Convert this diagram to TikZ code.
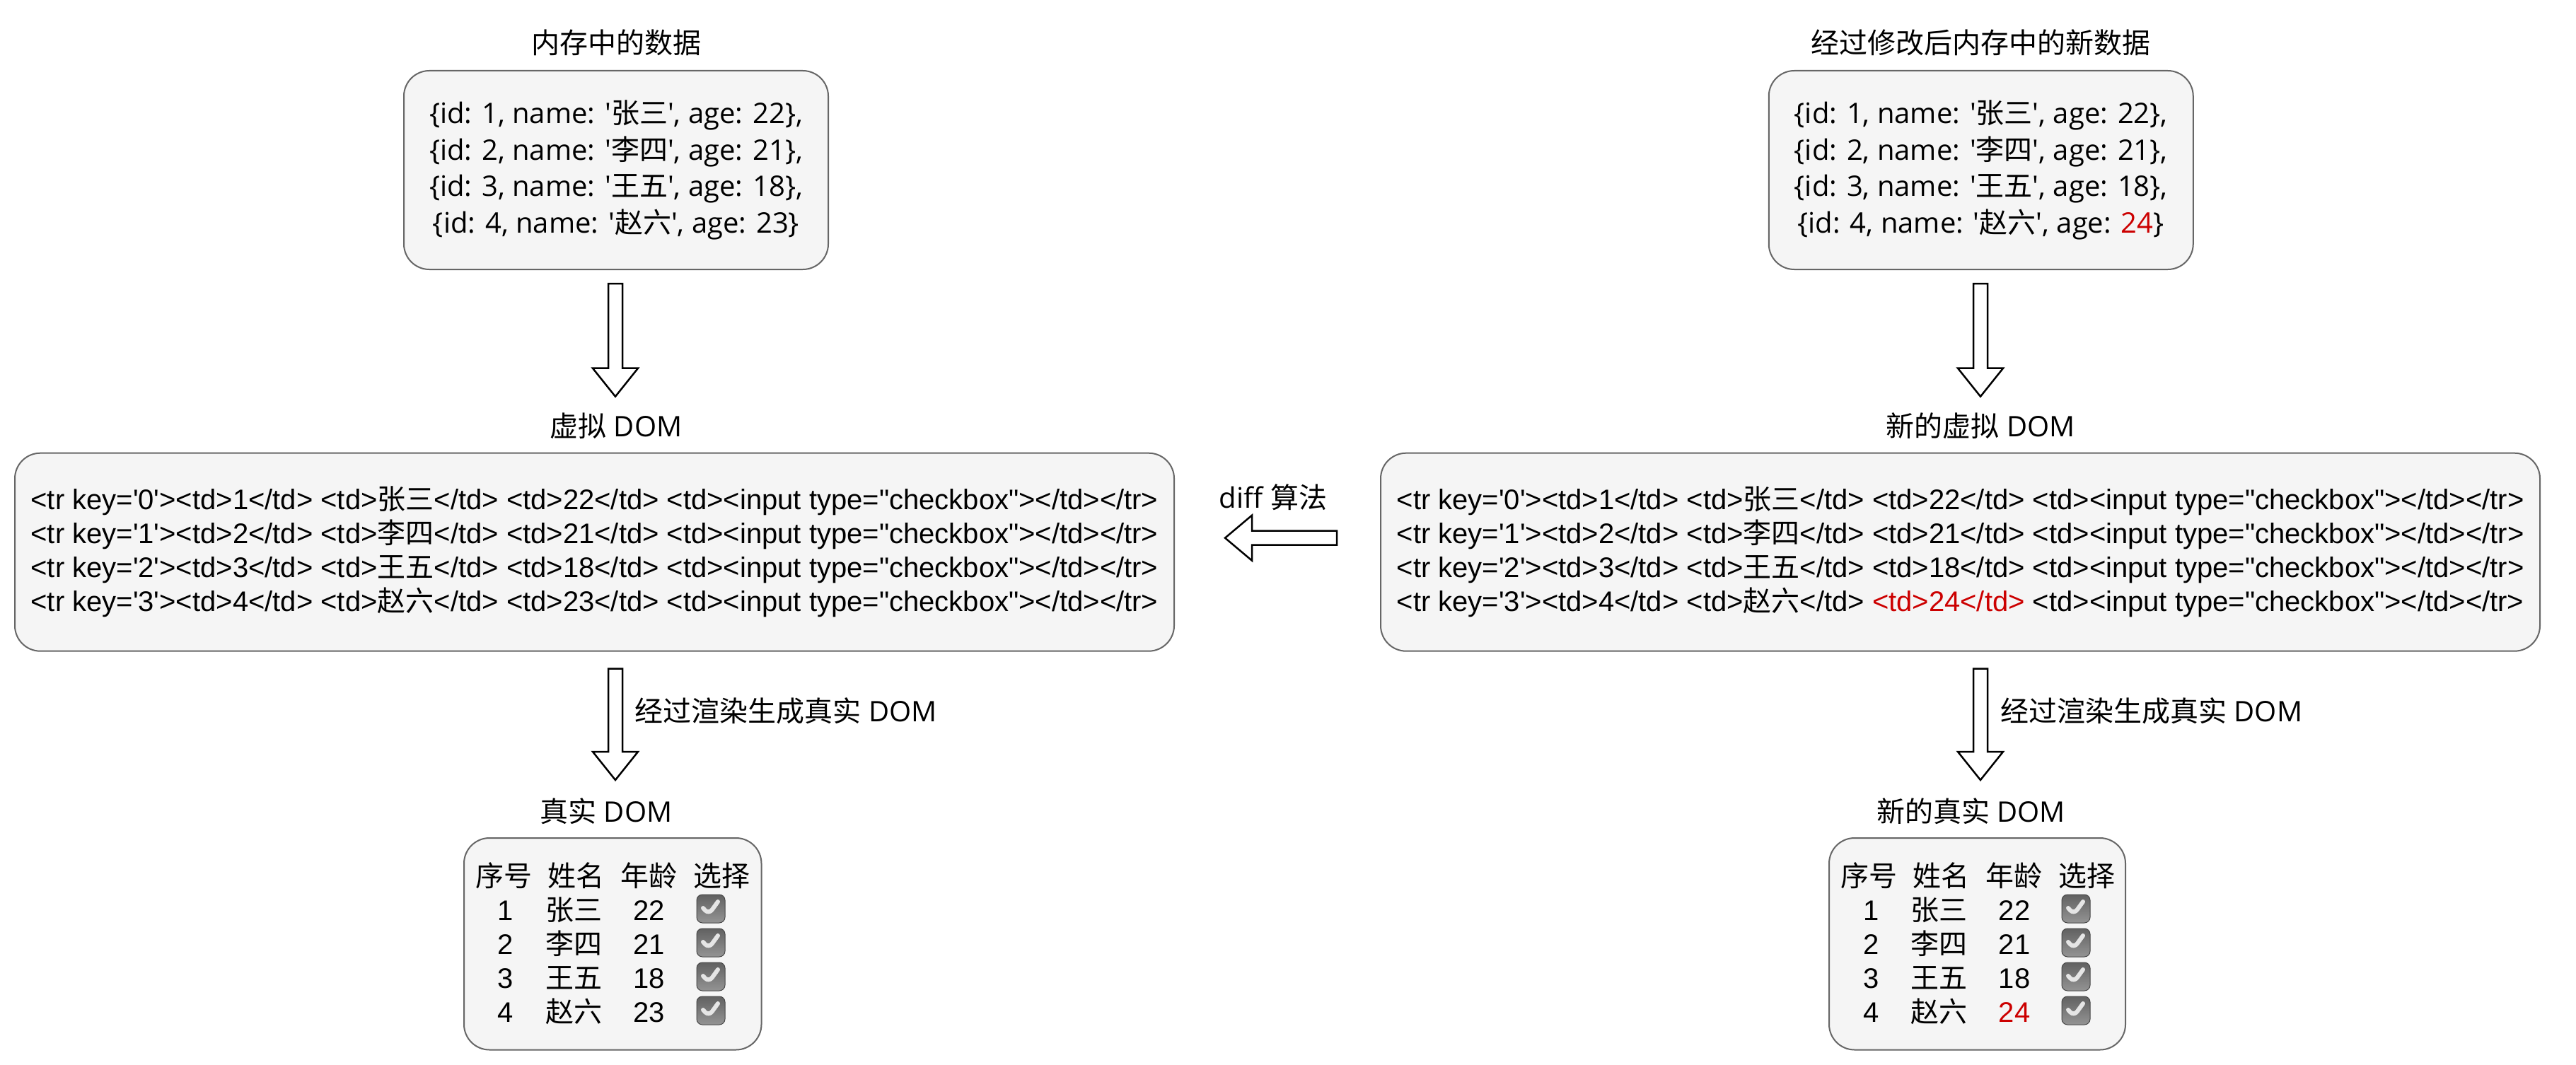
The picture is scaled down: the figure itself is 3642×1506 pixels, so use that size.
\documentclass[tikz,border=0pt]{standalone}
\usepackage{fontspec}
\newfontfamily\cjk{Noto Sans CJK SC}
\newfontfamily\hel{Liberation Sans}
\newfontfamily\comic{Open Sans}
\usetikzlibrary{calc}
\definecolor{boxfill}{HTML}{F5F5F5}
\definecolor{boxline}{HTML}{666666}
\definecolor{chg}{HTML}{CC0000}
\newcommand\zhs[1]{{\cjk #1}}
\begin{document}
\begin{tikzpicture}[x=1pt,y=-1pt,
  every node/.style={inner sep=0pt, outer sep=0pt},
  title/.style={anchor=base, font=\fontsize{40}{48}\selectfont\comic},
  box/.style={draw=boxline, fill=boxfill, line width=2pt, rounded corners=36pt},
  databox/.style={box, align=center, font=\fontsize{40}{51.7}\selectfont\comic},
  vdombox/.style={box, align=center, font=\fontsize{40}{48}\selectfont\hel},
  cell/.style={anchor=base, font=\fontsize{40}{48}\selectfont\hel},
  chk/.style={minimum size=40pt, rounded corners=8pt, draw=black!72, line width=1pt,
    top color=black!62, bottom color=black!42,
    path picture={\draw[line width=6pt, white!90!black, line cap=round, line join=round]
      ([shift={(-11pt,1pt)}]path picture bounding box.center) -- ++(8pt,-9pt) -- ++(13pt,18pt);}},
  blockdown/.style={draw=black, line width=2.5pt, fill=white, to path={
    let \p1=(\tikztostart), \p2=(\tikztotarget) in
    (\x1-10pt,\y1) -- (\x1+10pt,\y1) -- (\x1+10pt,\y2+40pt) -- (\x1+32pt,\y2+40pt)
    -- (\x1,\y2) -- (\x1-32pt,\y2+40pt) -- (\x1-10pt,\y2+40pt) -- cycle}},
  blockleft/.style={draw=black, line width=2.5pt, fill=white, to path={
    let \p1=(\tikztostart), \p2=(\tikztotarget) in
    (\x1,\y1+10pt) -- (\x2+38pt,\y1+10pt) -- (\x2+38pt,\y1+32pt) -- (\x2,\y1)
    -- (\x2+38pt,\y1-32pt) -- (\x2+38pt,\y1-10pt) -- (\x1,\y1-10pt) -- cycle}}
]
\useasboundingbox (0,0) rectangle (3642,1506);

% titles
\node[title] (t1) at (871,76) {\zhs{内存中的数据}};
\node[title] (t2) at (2800,76) {\zhs{经过修改后内存中的新数据}};
\node[title] (t3) at (871,617) {\zhs{虚拟} DOM};
\node[title] (t4) at (2800,617) {\zhs{新的虚拟} DOM};
\node[title] (t5) at (857,1162) {\zhs{真实} DOM};
\node[title] (t6) at (2786.5,1162) {\zhs{新的真实} DOM};
\node[title] (difflbl) at (1800,718) {diff \zhs{算法}};
\node[title, anchor=base west] (r1) at (897.7,1020) {\zhs{经过渲染生成真实} DOM};
\node[title, anchor=base west] (r2) at (2828.4,1020) {\zhs{经过渲染生成真实} DOM};

% data boxes
\node[databox, minimum width=600pt, minimum height=281pt] (mem) at (871,240.5)
 {\{id: 1, name: '\zhs{张三}', age: 22\},\\
  \{id: 2, name: '\zhs{李四}', age: 21\},\\
  \{id: 3, name: '\zhs{王五}', age: 18\},\\
  \{id: 4, name: '\zhs{赵六}', age: 23\}};
\node[databox, minimum width=600pt, minimum height=281pt] (newmem) at (2800.75,240.5)
 {\{id: 1, name: '\zhs{张三}', age: 22\},\\
  \{id: 2, name: '\zhs{李四}', age: 21\},\\
  \{id: 3, name: '\zhs{王五}', age: 18\},\\
  \{id: 4, name: '\zhs{赵六}', age: \textcolor{chg}{24}\}};

% virtual DOM boxes
\node[vdombox, minimum width=1639pt, minimum height=280pt] (vdom) at (840.5,780.7)
 {<tr key='0'><td>1</td> <td>\zhs{张三}</td> <td>22</td> <td><input type="checkbox"></td></tr>\\
  <tr key='1'><td>2</td> <td>\zhs{李四}</td> <td>21</td> <td><input type="checkbox"></td></tr>\\
  <tr key='2'><td>3</td> <td>\zhs{王五}</td> <td>18</td> <td><input type="checkbox"></td></tr>\\
  <tr key='3'><td>4</td> <td>\zhs{赵六}</td> <td>23</td> <td><input type="checkbox"></td></tr>};
\node[vdombox, minimum width=1639pt, minimum height=280pt] (newvdom) at (2771.5,780.7)
 {<tr key='0'><td>1</td> <td>\zhs{张三}</td> <td>22</td> <td><input type="checkbox"></td></tr>\\
  <tr key='1'><td>2</td> <td>\zhs{李四}</td> <td>21</td> <td><input type="checkbox"></td></tr>\\
  <tr key='2'><td>3</td> <td>\zhs{王五}</td> <td>18</td> <td><input type="checkbox"></td></tr>\\
  <tr key='3'><td>4</td> <td>\zhs{赵六}</td> \textcolor{chg}{<td>24</td>} <td><input type="checkbox"></td></tr>};

% real DOM boxes
\node[box, minimum width=420.5pt, minimum height=299.5pt] (dom) at (866.25,1334.75) {};
\node[box, minimum width=419pt, minimum height=299.5pt] (newdom) at (2795.5,1334.75) {};

% table headers
\node[cell] (dh1) at (712.8,1253) {\zhs{序号}};
\node[cell] (dh2) at (814.7,1253) {\zhs{姓名}};
\node[cell] (dh3) at (917.6,1253) {\zhs{年龄}};
\node[cell] (dh4) at (1020,1253) {\zhs{选择}};
\node[cell] (nh1) at (2642.6,1253) {\zhs{序号}};
\node[cell] (nh2) at (2744,1253) {\zhs{姓名}};
\node[cell] (nh3) at (2847,1253) {\zhs{年龄}};
\node[cell] (nh4) at (2950.6,1253) {\zhs{选择}};

% table rows
\foreach \k/\nm/\ag in {1/张三/22, 2/李四/21, 3/王五/18, 4/赵六/23} {
  \node[cell] (dn\k) at (714.8,{1253+48*\k}) {\k};
  \node[cell] (dm\k) at (811.6,{1253+48*\k}) {\zhs{\nm}};
  \node[cell] (da\k) at (917.6,{1253+48*\k}) {\ag};
  \node[chk] (dc\k) at (1005,{1285+48*(\k-1)}) {};
}
\foreach \k/\nm/\ag in {1/张三/22, 2/李四/21, 3/王五/18} {
  \node[cell] (nn\k) at (2645.4,{1253+48*\k}) {\k};
  \node[cell] (nm\k) at (2741.5,{1253+48*\k}) {\zhs{\nm}};
  \node[cell] (na\k) at (2848,{1253+48*\k}) {\ag};
}
\node[cell] (nn4) at (2645.4,1445) {4};
\node[cell] (nm4) at (2741.5,1445) {\zhs{赵六}};
\node[cell, text=chg] (na4) at (2848,1445) {24};
\foreach \k in {1,...,4} {
  \node[chk] (nc\k) at (2935,{1285+48*(\k-1)}) {};
}

% block arrows
\draw[blockdown] ([shift={(-1pt,-20pt)}]mem.south) to ([yshift=80pt]vdom.north);
\draw[blockdown] ([shift={(-0.75pt,-20pt)}]newmem.south) to ([yshift=80pt]newvdom.north);
\draw[blockdown] ([shift={(29.5pt,-25pt)}]vdom.south) to ([yshift=82pt]dom.north);
\draw[blockdown] ([shift={(28.5pt,-25pt)}]newvdom.south) to ([yshift=82pt]newdom.north);
\draw[blockleft] ([shift={(-62pt,20pt)}]newvdom.west) to ([xshift=72pt]vdom.east);
\end{tikzpicture}
\end{document}
